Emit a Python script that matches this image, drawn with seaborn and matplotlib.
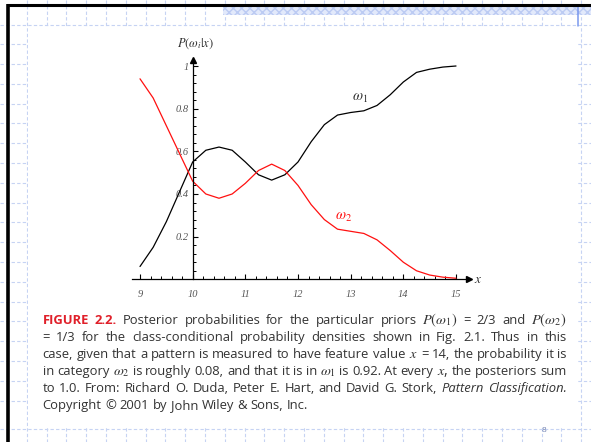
import numpy as np
import matplotlib
matplotlib.use('Agg')
import matplotlib.pyplot as plt
import seaborn as sns
from matplotlib.patches import Rectangle
from matplotlib.ticker import FixedLocator

# Posterior curves
x_vals = [9.0, 9.25, 9.5, 9.75, 10.0, 10.25, 10.5, 10.75, 11.0, 11.25, 11.5, 11.75,
          12.0, 12.25, 12.5, 12.75, 13.0, 13.25, 13.5, 13.75, 14.0, 14.25, 14.5, 14.75, 15.0]
omega1 = [0.06, 0.15, 0.27, 0.41, 0.55, 0.605, 0.62, 0.605, 0.55, 0.49, 0.465, 0.49,
          0.55, 0.645, 0.725, 0.77, 0.782, 0.79, 0.815, 0.865, 0.925, 0.97, 0.985, 0.995, 1.0]
omega2 = [0.94, 0.85, 0.72, 0.59, 0.46, 0.40, 0.38, 0.40, 0.45, 0.51, 0.54, 0.51,
          0.44, 0.35, 0.28, 0.235, 0.225, 0.215, 0.185, 0.135, 0.08, 0.04, 0.02, 0.01, 0.005]

x_ticks = [9, 10, 11, 12, 13, 14, 15]
x_tick_labels = ['9', '10', '11', '12', '13', '14', '15']
y_ticks = [0.2, 0.4, 0.6, 0.8, 1.0]
y_tick_labels = ['0.2', '0.4', '0.6', '0.8', '1']

caption_lines = [
    ['FIGURE', '2.2.', 'Posterior', 'probabilities', 'for', 'the', 'particular', 'priors',
     r'$P(\omega_1)$', '=', '2/3', 'and', r'$P(\omega_2)$'],
    ['=', '1/3', 'for', 'the', 'class-conditional', 'probability', 'densities', 'shown',
     'in', 'Fig.', '2.1.', 'Thus', 'in', 'this'],
    ['case,', 'given', 'that', 'a', 'pattern', 'is', 'measured', 'to', 'have', 'feature',
     'value', r'$x$', '=', '14,', 'the', 'probability', 'it', 'is'],
    ['in', 'category', r'$\omega_2$', 'is', 'roughly', '0.08,', 'and', 'that', 'it', 'is',
     'in', r'$\omega_1$', 'is', '0.92.', 'At', 'every', r'$x$,', 'the', 'posteriors', 'sum'],
    ['to', '1.0.', 'From:', 'Richard', 'O.', 'Duda,', 'Peter', 'E.', 'Hart,', 'and', 'David',
     'G.', 'Stork,', 'Pattern', 'Classification.'],
    ['Copyright', '\u00a9', '2001', 'by', 'John', 'Wiley', '&', 'Sons,', 'Inc.'],
]
red_words = {'FIGURE', '2.2.'}
italic_words = {'Pattern', 'Classification.'}

sns.set_theme(style='ticks')
plt.rcParams['font.family'] = ['Open Sans', 'DejaVu Sans']
plt.rcParams['mathtext.fontset'] = 'stix'

W, H = 591, 442
fig = plt.figure(figsize=(W / 100, H / 100), dpi=100)
fig.patch.set_facecolor('white')

# slide background: dashed grid, frame, banner
bg = fig.add_axes([0, 0, 1, 1], zorder=0)
bg.set_xlim(0, W)
bg.set_ylim(H, 0)
bg.axis('off')
grid_color = '#c6d3f3'
for gx in np.arange(26.7, W, 19.8):
    bg.plot([gx, gx], [0, H], color=grid_color, lw=0.8, ls=(0, (3, 2)))
for gy in np.arange(24.5, 420, 19.8):
    bg.plot([0, W], [gy, gy], color=grid_color, lw=0.8, ls=(0, (3, 2)))
bg.plot([0, W], [429, 429], color=grid_color, lw=0.8, ls=(0, (3, 2)))
bg.add_patch(Rectangle((28, 26.5), 549.5, 401.5, facecolor='white', edgecolor='none', zorder=3))
bg.add_patch(Rectangle((223, 6), W - 223, 9, facecolor='#e2e9fb', edgecolor='#bccbf3',
                       hatch='xxxx', lw=0, zorder=4))
bg.plot([578, 578], [5, 26], color='#7a98ee', lw=1.1, zorder=5)
bg.plot([7, W], [4.8, 4.8], color='black', lw=2.2, zorder=6, solid_capstyle='butt')
bg.plot([7.6, 7.6], [3.7, H], color='black', lw=2.6, zorder=6, solid_capstyle='butt')
bg.text(544, 430, '8', fontsize=6, color='#7080b0', ha='center', va='center', zorder=6)

# chart axes mapped onto the picture's pixel positions
px9, ppx = 140.0, 52.67
py0, ppy = 279.3, 213.3
xl, xr = 8.8, 15.4
yb, yt = -0.1, 1.1
left_px = px9 + (xl - 9) * ppx
right_px = px9 + (xr - 9) * ppx
top_px = py0 - yt * ppy
bot_px = py0 - yb * ppy
ax = fig.add_axes([left_px / W, 1 - bot_px / H, (right_px - left_px) / W, (bot_px - top_px) / H],
                  zorder=2)
ax.patch.set_visible(False)

sns.lineplot(x=x_vals, y=omega1, color='black', lw=0.9, ax=ax)
sns.lineplot(x=x_vals, y=omega2, color='#ff1010', lw=0.9, ax=ax)

ax.set_xlim(xl, xr)
ax.set_ylim(yb, yt)
for s in ['top', 'right']:
    ax.spines[s].set_visible(False)
ax.spines['left'].set_position(('data', 10))
ax.spines['bottom'].set_position(('data', 0))
ax.spines['left'].set_bounds(0, 1.02)
ax.spines['bottom'].set_bounds(8.84, 15.22)
for s in ['left', 'bottom']:
    ax.spines[s].set_color('black')
    ax.spines[s].set_linewidth(0.9)
ax.plot([15.24], [0], marker='>', color='black', ms=4, clip_on=False)
ax.plot([10], [1.03], marker='^', color='black', ms=4, clip_on=False)

ax.set_xticks(x_ticks)
ax.set_xticklabels(x_tick_labels)
ax.set_yticks(y_ticks)
ax.set_yticklabels(y_tick_labels)
ax.xaxis.set_minor_locator(FixedLocator(np.arange(9, 15.01, 0.2)))
ax.yaxis.set_minor_locator(FixedLocator(np.arange(0.04, 1.01, 0.04)))
ax.tick_params(axis='both', which='major', direction='in', length=3.5, width=0.8, color='black')
ax.tick_params(axis='both', which='minor', direction='in', length=2.2, width=0.7, color='black')
ax.tick_params(axis='x', which='major', pad=8)
ax.tick_params(axis='y', which='major', pad=3)
for lbl in ax.get_xticklabels() + ax.get_yticklabels():
    lbl.set_fontfamily('Liberation Serif')
    lbl.set_fontstyle('italic')
    lbl.set_fontsize(7.5)
    lbl.set_color('#555555')
ax.set_xlabel('')
ax.set_ylabel('')

ax.text(10.06, 1.103, r'$P(\omega_i|x)$', fontsize=9, color='#333333', ha='center', va='center')
ax.text(15.42, 0.0, r'$x$', fontsize=9.5, color='#333333', ha='center', va='center')
ax.text(13.18, 0.853, r'$\omega_1$', fontsize=10.5, color='#333333', ha='center', va='center')
ax.text(12.86, 0.293, r'$\omega_2$', fontsize=10.5, color='#ff1010', ha='center', va='center')

# justified caption
cap_left, cap_right = 42.5, 566.5
baselines = [324, 341, 358, 375.3, 392.3, 409.3]
fs = 9.4
renderer = fig.canvas.get_renderer()
for i, (words, base) in enumerate(zip(caption_lines, baselines)):
    items = []
    for w in words:
        kw = dict(fontsize=fs, color='#333333', va='baseline', ha='left', zorder=5)
        if w in red_words:
            kw.update(color='#e0202a', fontweight='bold')
        if w in italic_words:
            kw.update(fontstyle='italic')
        if w.startswith('$'):
            kw.update(fontsize=fs * 1.1)
        items.append(fig.text(0, 0, w, **kw))
    widths = [t.get_window_extent(renderer).width for t in items]
    last = i == len(caption_lines) - 1
    if last:
        gap = fs * 100 / 72 * 0.27
    else:
        gap = (cap_right - cap_left - sum(widths)) / (len(items) - 1)
    xpos = cap_left
    for t, w in zip(items, widths):
        t.set_position((xpos / W, 1 - base / H))
        xpos += w + gap

fig.savefig('out.png', dpi=100)
